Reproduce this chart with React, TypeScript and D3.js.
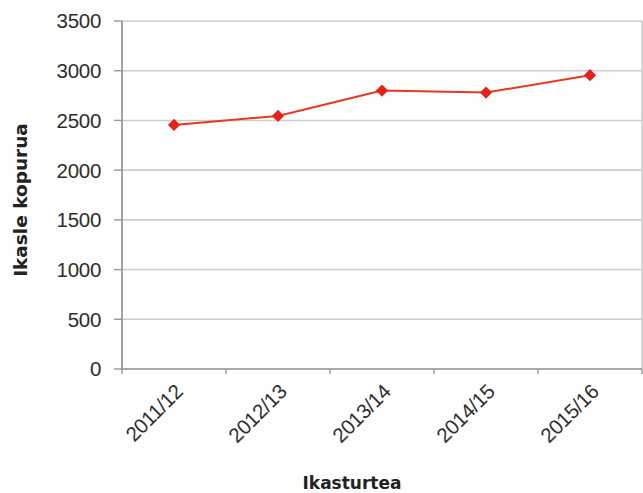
import React from "react";
import * as d3 from "d3";

// data
const years = ["2011/12", "2012/13", "2013/14", "2014/15", "2015/16"];
const students = [2455, 2545, 2800, 2780, 2955];
const yTicks = [0, 500, 1000, 1500, 2000, 2500, 3000, 3500];

const W = 643;
const H = 493;
const margin = { top: 21, right: 1, bottom: 124, left: 122 };

export default function App() {
  const x = d3
    .scaleBand<string>()
    .domain(years)
    .range([margin.left, W - margin.right])
    .padding(0);
  const y = d3
    .scaleLinear()
    .domain([0, 3500])
    .range([H - margin.bottom, margin.top]);

  const cx = (d: string) => (x(d) ?? 0) + x.bandwidth() / 2;

  const line = d3
    .line<number>()
    .x((_, i) => cx(years[i]))
    .y((d) => y(d));

  const diamond = d3.symbol().type(d3.symbolDiamond2).size(95)();

  const x0 = margin.left;
  const x1 = W - margin.right;
  const y0 = y(0);

  return (
    <svg
      width={W}
      height={H}
      style={{ position: "absolute", left: 0, top: 0, background: "#fff" }}
      fontFamily="'Liberation Sans', Arial, sans-serif"
    >
      {/* gridlines + y ticks */}
      {yTicks.map((t) => (
        <g key={t}>
          {t > 0 && (
            <line x1={x0} x2={x1} y1={y(t)} y2={y(t)} stroke="#cfcccb" strokeWidth={1.6} />
          )}
          <line x1={x0 - 8} x2={x0} y1={y(t)} y2={y(t)} stroke="#999" strokeWidth={1.4} />
          <text
            x={101}
            y={y(t)}
            dy="0.36em"
            textAnchor="end"
            fontSize={20.5}
            fill="#2e2e2e"
            letterSpacing={-0.3}
          >
            {t}
          </text>
        </g>
      ))}

      {/* right border of plot */}
      <line x1={x1} x2={x1} y1={y(3500)} y2={y0} stroke="#cfcccb" strokeWidth={1.6} />

      {/* axes */}
      <line x1={x0} x2={x0} y1={margin.top} y2={y0} stroke="#8f8c8a" strokeWidth={1.6} />
      <line x1={x0} x2={x1} y1={y0} y2={y0} stroke="#8f8c8a" strokeWidth={1.6} />
      {years.map((d) => (
        <line
          key={"t" + d}
          x1={x(d)}
          x2={x(d)}
          y1={y0}
          y2={y0 + 5}
          stroke="#999"
          strokeWidth={1.4}
        />
      ))}
      <line x1={x1} x2={x1} y1={y0} y2={y0 + 5} stroke="#999" strokeWidth={1.4} />

      {/* x tick labels */}
      {years.map((d) => (
        <text
          key={"l" + d}
          transform={`translate(${cx(d) + 10},${y0 + 24}) rotate(-45)`}
          textAnchor="end"
          fontSize={20.5}
          fill="#2e2e2e"
          letterSpacing={-0.3}
        >
          {d}
        </text>
      ))}

      {/* series */}
      <path d={line(students) ?? ""} fill="none" stroke="#e8381f" strokeWidth={2} />
      {students.map((v, i) => (
        <path
          key={"m" + i}
          d={diamond ?? ""}
          transform={`translate(${cx(years[i])},${y(v)})`}
          fill="#e3231b"
        />
      ))}

      {/* axis titles */}
      <text
        transform={`translate(27,${200}) rotate(-90)`}
        textAnchor="middle"
        fontFamily="'DejaVu Sans', sans-serif"
        fontSize={18.5}
        fontWeight="bold"
        fill="#222"
      >
        Ikasle kopurua
      </text>
      <text
        x={352}
        y={489}
        textAnchor="middle"
        fontFamily="'DejaVu Sans', sans-serif"
        fontSize={17}
        fontWeight="bold"
        fill="#222"
      >
        Ikasturtea
      </text>
    </svg>
  );
}
